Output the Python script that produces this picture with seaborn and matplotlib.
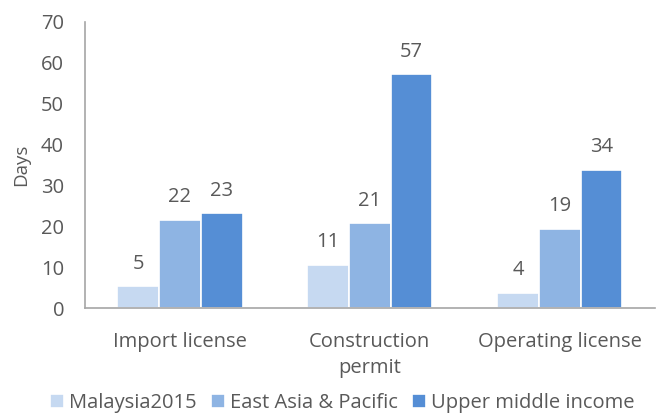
import pandas as pd
import matplotlib
matplotlib.use("Agg")
import matplotlib.pyplot as plt
import seaborn as sns

# values
categories = ["Import license", "Construction\npermit", "Operating license"]
series = ["Malaysia2015", "East Asia & Pacific", "Upper middle income"]
malaysia = [5.4, 10.6, 3.8]
east_asia = [21.6, 20.8, 19.4]
upper_middle = [23.2, 57.2, 33.8]
colors = ["#C6D9F1", "#8EB4E3", "#558ED5"]

df = pd.DataFrame({
    "category": categories * 3,
    "series": [s for s in series for _ in categories],
    "days": malaysia + east_asia + upper_middle,
})

sns.set_style("white")
plt.rcParams["font.family"] = ["Open Sans", "DejaVu Sans"]
text_color = "#595959"
fs = 14.5

fig = plt.figure(figsize=(6.58, 4.13), dpi=100)
ax = fig.add_axes([0.129, 0.254, 0.866, 0.693])

sns.barplot(data=df, x="category", y="days", hue="series", palette=colors,
            width=0.66, edgecolor="white", linewidth=1.2, saturation=1,
            legend=True, ax=ax)

for cont in ax.containers:
    ax.bar_label(cont, labels=[f"{round(v.get_height())}" for v in cont],
                 padding=9, fontsize=fs, color=text_color)

ax.set_ylim(0, 70)
ax.set_yticks(range(0, 71, 10))
ax.set_xlim(-0.5, 2.5)
ax.set_xlabel("")
ax.set_ylabel("Days", fontsize=fs - 1, color=text_color, labelpad=8)
ax.tick_params(axis="both", labelsize=fs, colors=text_color, length=0)
ax.tick_params(axis="y", pad=15)
ax.tick_params(axis="x", pad=17)
for lbl in ax.get_xticklabels():
    lbl.set_linespacing(1.4)
for side in ["top", "right"]:
    ax.spines[side].set_visible(False)
for side in ["left", "bottom"]:
    ax.spines[side].set_color("#A6A6A6")
    ax.spines[side].set_linewidth(1.2)

handles, labels = ax.get_legend_handles_labels()
ax.get_legend().remove()
fig.legend(handles, labels, loc="lower center", ncol=3, frameon=False,
           bbox_to_anchor=(0.52, -0.045), fontsize=fs, handlelength=0.7,
           handleheight=0.7, handletextpad=0.25, columnspacing=0.7,
           labelcolor=text_color)

fig.savefig("out.png", dpi=100)
